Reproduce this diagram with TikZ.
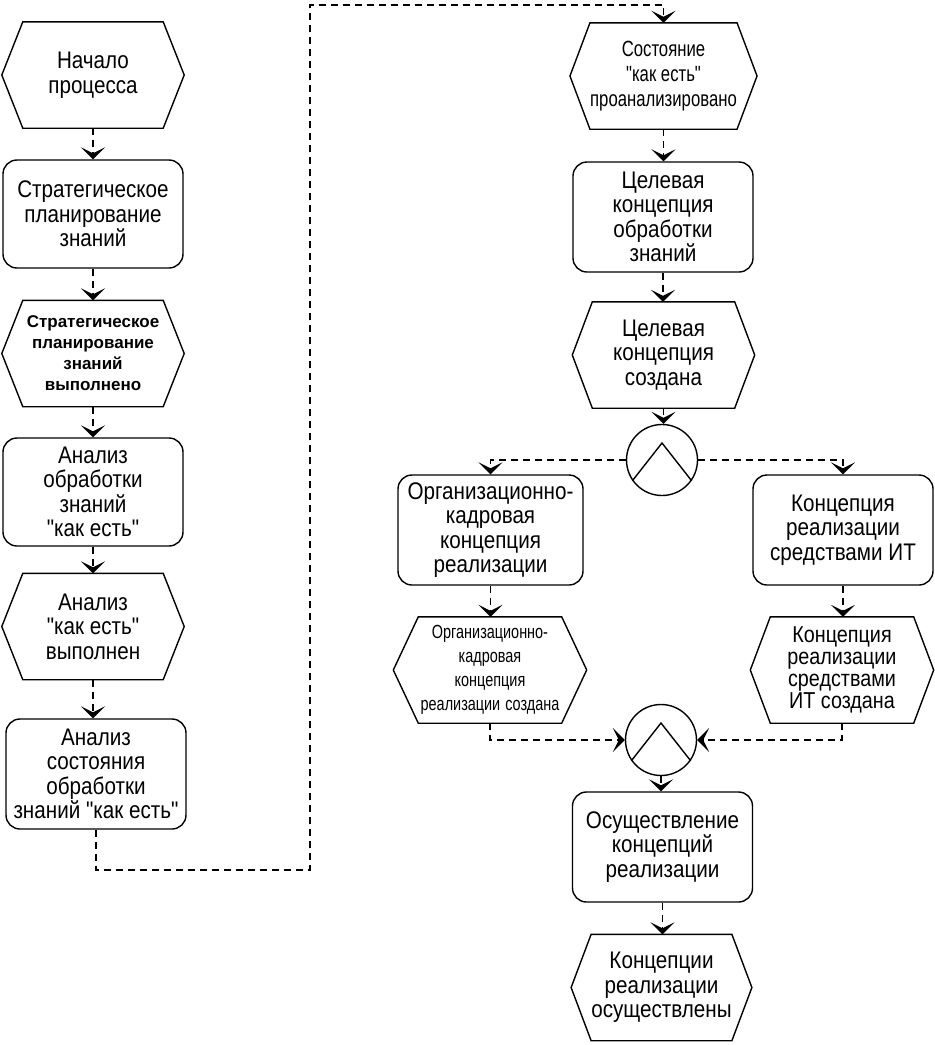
\documentclass[tikz,border=0pt]{standalone}
\usepackage{fontspec}
\setmainfont{Liberation Sans}
\newfontfamily\mf[FakeStretch=0.86]{Liberation Sans}
\newfontfamily\nf[FakeStretch=0.76]{Liberation Sans}
\usetikzlibrary{arrows.meta}
\begin{document}
\begin{tikzpicture}[x=1pt,y=-1pt,
  lw/.style={line width=1.4pt},
  txt/.style={font=\mf\fontsize{24}{24.5}\selectfont, align=center, inner sep=0pt},
  evt/.style={txt, minimum width=#1, minimum height=106pt},
  fn/.style={txt, draw, lw, rounded corners=14pt, minimum width=#1, minimum height=108pt},
  fn/.default=180pt,
  small/.style={font=\nf\fontsize{22}{25}\selectfont},
  tiny/.style={font=\nf\fontsize{19}{24}\selectfont},
  bld/.style={font=\bfseries\fontsize{17}{21}\selectfont},
  op/.style={circle, draw, lw, minimum size=71pt, inner sep=0pt},
  conn/.style={lw, dash pattern=on 7pt off 5pt, -{Stealth[length=12pt,width=24pt,inset=6pt]}}
]
\useasboundingbox (0,0) rectangle (935,1045);

% left column
\node[evt=140pt] (h1) at (93,75) {Начало\\процесса};
\node[fn] (r1) at (93,214) {Стратегическое\\планирование\\знаний};
\node[evt=140pt, bld] (h2) at (93,353.5) {Стратегическое\\планирование\\знаний\\выполнено};
\node[fn] (r2) at (93,492) {Анализ\\обработки\\знаний\\"как есть"};
\node[evt=140pt] (h3) at (93,626.5) {Анализ\\"как есть"\\выполнен};
\node[fn, minimum height=110pt] (r3) at (96,774) {Анализ\\состояния\\обработки\\знаний "как есть"};

% right column
\node[evt=142pt, small] (h4) at (663.5,76) {Состояние\\"как есть"\\проанализировано};
\node[fn, minimum height=110pt] (r4) at (663,217) {Целевая\\концепция\\обработки\\знаний};
\node[evt=142pt] (h5) at (663.5,355) {Целевая\\концепция\\создана};
\node[op] (c1) at (662,460) {};
\node[fn=185pt, minimum height=110pt] (r5) at (490.5,530) {Организационно-\\кадровая\\концепция\\реализации};
\node[fn, minimum height=110pt] (r6) at (843,530) {Концепция\\реализации\\средствами ИТ};
\node[evt=143pt, tiny] (h6) at (490,670) {Организационно-\\кадровая\\концепция\\реализации\hspace{5pt}создана};
\node[evt=143pt, font=\mf\fontsize{23}{22}\selectfont] (h7) at (842,670) {Концепция\\реализации\\средствами\\ИТ создана};
\node[op] (c2) at (661,740) {};
\node[fn, minimum height=110pt] (r7) at (662.5,847) {Осуществление\\концепций\\реализации};
\node[evt=138pt] (h8) at (661.5,987.5) {Концепции\\реализации\\осуществлены};

% hexagon outlines
\foreach \n/\p in {h1/21,h2/21,h3/21,h4/20,h5/20,h6/25,h7/20,h8/20}
  \draw[lw] (\n.north west) -- (\n.north east) -- ([xshift=\p pt]\n.east) -- (\n.south east)
     -- (\n.south west) -- ([xshift=-\p pt]\n.west) -- cycle;

% AND operator symbols
\foreach \c in {c1,c2}
  \draw[lw] (\c.215) -- ([yshift=17pt]\c.center) -- (\c.325);

% connectors
\draw[conn] (h1) -- (r1);
\draw[conn] (r1) -- (h2);
\draw[conn] (h2) -- (r2);
\draw[conn] (r2) -- (h3);
\draw[conn] (h3.south) -- (h3.south |- r3.north);
\coordinate (k1) at (310,870);
\coordinate (k2) at (310,5);
\draw[conn] (r3.south) |- (k1) -- (k2) -| (h4.north);
\draw[conn] (h4.south) -- (h4.south |- r4.north);
\draw[conn] (r4.south) -- (r4.south |- h5.north);
\draw[conn] (h5.south) -- (h5.south |- c1.north);
\draw[conn] (c1.west) -| (r5.north);
\draw[conn] (c1.east) -| (r6.north);
\draw[conn] (r5.south) -- (r5.south |- h6.north);
\draw[conn] (r6.south) -- (r6.south |- h7.north);
\draw[conn] (h6.south) |- (c2.west);
\draw[conn] (h7.south) |- (c2.east);
\draw[conn] (c2.south) -- (c2.south |- r7.north);
\draw[conn] (r7.south) -- (r7.south |- h8.north);
\end{tikzpicture}
\end{document}
